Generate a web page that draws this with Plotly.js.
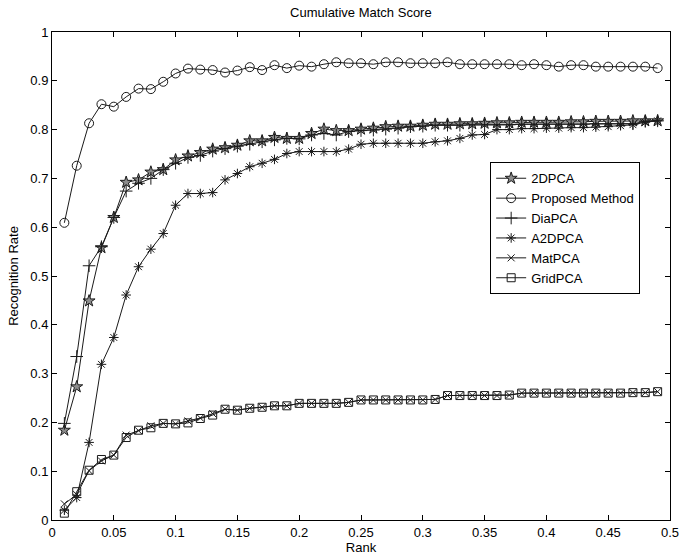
<!DOCTYPE html>
<html>
<head>
<meta charset="utf-8">
<script src="https://cdn.plot.ly/plotly-3.0.1.min.js"></script>
<style>html,body{margin:0;padding:0;background:#fff;}#chart{width:696px;height:556px;}</style>
</head>
<body>
<div id="chart"></div>
<script>
const ranks = [0.01,0.02,0.03,0.04,0.05,0.06,0.07,0.08,0.09,0.10,0.11,0.12,0.13,0.14,0.15,0.16,0.17,0.18,0.19,0.20,0.21,0.22,0.23,0.24,0.25,0.26,0.27,0.28,0.29,0.30,0.31,0.32,0.33,0.34,0.35,0.36,0.37,0.38,0.39,0.40,0.41,0.42,0.43,0.44,0.45,0.46,0.47,0.48,0.49];

const pca2d = [0.184,0.273,0.449,0.558,0.620,0.692,0.697,0.713,0.718,0.738,0.746,0.753,0.760,0.763,0.768,0.777,0.777,0.784,0.782,0.782,0.792,0.801,0.798,0.798,0.801,0.803,0.806,0.807,0.807,0.809,0.811,0.811,0.812,0.812,0.813,0.814,0.814,0.815,0.815,0.815,0.815,0.816,0.816,0.817,0.817,0.817,0.818,0.818,0.818];

const proposed = [0.609,0.726,0.813,0.852,0.847,0.867,0.884,0.883,0.898,0.915,0.925,0.923,0.922,0.917,0.921,0.928,0.922,0.932,0.926,0.931,0.929,0.934,0.938,0.936,0.936,0.934,0.938,0.938,0.936,0.936,0.936,0.938,0.934,0.934,0.934,0.934,0.934,0.932,0.934,0.932,0.929,0.932,0.932,0.929,0.929,0.929,0.929,0.929,0.926];

const diaPCA = [0.198,0.335,0.521,0.560,0.620,0.674,0.690,0.700,0.718,0.731,0.743,0.747,0.756,0.761,0.766,0.770,0.775,0.779,0.782,0.781,0.789,0.792,0.789,0.796,0.798,0.799,0.801,0.803,0.806,0.807,0.809,0.809,0.809,0.810,0.810,0.810,0.810,0.811,0.811,0.811,0.811,0.811,0.811,0.812,0.812,0.812,0.812,0.817,0.818];

const a2dPCA = [0.020,0.046,0.159,0.319,0.374,0.461,0.519,0.555,0.587,0.645,0.669,0.669,0.671,0.697,0.710,0.724,0.731,0.739,0.751,0.755,0.755,0.755,0.755,0.760,0.770,0.772,0.772,0.772,0.772,0.772,0.775,0.777,0.782,0.789,0.790,0.800,0.800,0.802,0.802,0.803,0.803,0.804,0.804,0.805,0.806,0.808,0.810,0.815,0.818];

const matPCA = [0.033,0.052,0.101,0.121,0.133,0.174,0.183,0.193,0.198,0.197,0.203,0.209,0.218,0.227,0.225,0.229,0.231,0.234,0.234,0.239,0.239,0.239,0.239,0.241,0.246,0.246,0.246,0.246,0.246,0.246,0.247,0.255,0.255,0.255,0.255,0.255,0.256,0.260,0.260,0.260,0.260,0.260,0.260,0.260,0.260,0.260,0.261,0.261,0.263];

const gridPCA = [0.014,0.058,0.102,0.124,0.133,0.169,0.184,0.189,0.198,0.197,0.199,0.208,0.215,0.227,0.225,0.229,0.231,0.234,0.234,0.239,0.239,0.239,0.239,0.241,0.246,0.246,0.246,0.246,0.246,0.246,0.247,0.255,0.255,0.255,0.255,0.255,0.256,0.260,0.260,0.260,0.260,0.260,0.260,0.260,0.260,0.260,0.261,0.261,0.263];

const seriesNames = ["2DPCA","Proposed Method","DiaPCA","A2DPCA","MatPCA","GridPCA"];
const xTicks = [0,0.05,0.1,0.15,0.2,0.25,0.3,0.35,0.4,0.45,0.5];
const xTickText = ["0","0.05","0.1","0.15","0.2","0.25","0.3","0.35","0.4","0.45","0.5"];
const yTicks = [0,0.1,0.2,0.3,0.4,0.5,0.6,0.7,0.8,0.9,1];
const yTickText = ["0","0.1","0.2","0.3","0.4","0.5","0.6","0.7","0.8","0.9","1"];

const ink = "#1a1a1a";
function tr(name, y, symbol, size, fill) {
  const marker = fill
    ? {symbol: symbol, size: size, color: fill, line: {color: ink, width: 1}}
    : {symbol: symbol, size: size, color: ink, line: {color: ink, width: 1}};
  return {
    x: ranks, y: y, name: name, type: "scatter", mode: "lines+markers",
    line: {color: ink, width: 1},
    marker: marker
  };
}

const data = [
  tr(seriesNames[0], pca2d, "star", 9, "#8c8c8c"),
  tr(seriesNames[1], proposed, "circle-open", 9),
  tr(seriesNames[2], diaPCA, "cross-thin-open", 9),
  tr(seriesNames[3], a2dPCA, "asterisk-open", 8),
  tr(seriesNames[4], matPCA, "x-thin-open", 7),
  tr(seriesNames[5], gridPCA, "square-open", 8)
];

const axisCommon = {
  showgrid: false, zeroline: false, showline: true, linecolor: "#000", linewidth: 1,
  mirror: "ticks", ticks: "inside", ticklen: 5, tickcolor: "#000",
  tickfont: {family: "Liberation Sans, Arial, sans-serif", size: 13, color: "#000"}
};

const layout = {
  width: 696, height: 556,
  margin: {l: 52, r: 26, t: 32, b: 36},
  paper_bgcolor: "#fff", plot_bgcolor: "#fff",
  font: {family: "Liberation Sans, Arial, sans-serif", color: "#000"},
  title: {text: "Cumulative Match Score", font: {size: 13, color: "#000"}, x: 0.5185, xanchor: "center", y: 0.978, yanchor: "middle"},
  xaxis: Object.assign({}, axisCommon, {
    range: [0, 0.5], tickvals: xTicks, ticktext: xTickText,
    title: {text: "Rank", font: {size: 13}, standoff: 2}
  }),
  yaxis: Object.assign({}, axisCommon, {
    range: [0, 1], tickvals: yTicks, ticktext: yTickText,
    title: {text: "Recognition Rate", font: {size: 13}, standoff: 8}
  }),
  showlegend: true,
  legend: {
    x: 0.709, y: 0.733, xanchor: "left", yanchor: "top",
    bgcolor: "#fff", bordercolor: "#000", borderwidth: 1,
    font: {size: 13, color: "#000"}, itemwidth: 30, tracegroupgap: 0
  }
};

Plotly.newPlot("chart", data, layout, {displayModeBar: false, staticPlot: true});
</script>
</body>
</html>
